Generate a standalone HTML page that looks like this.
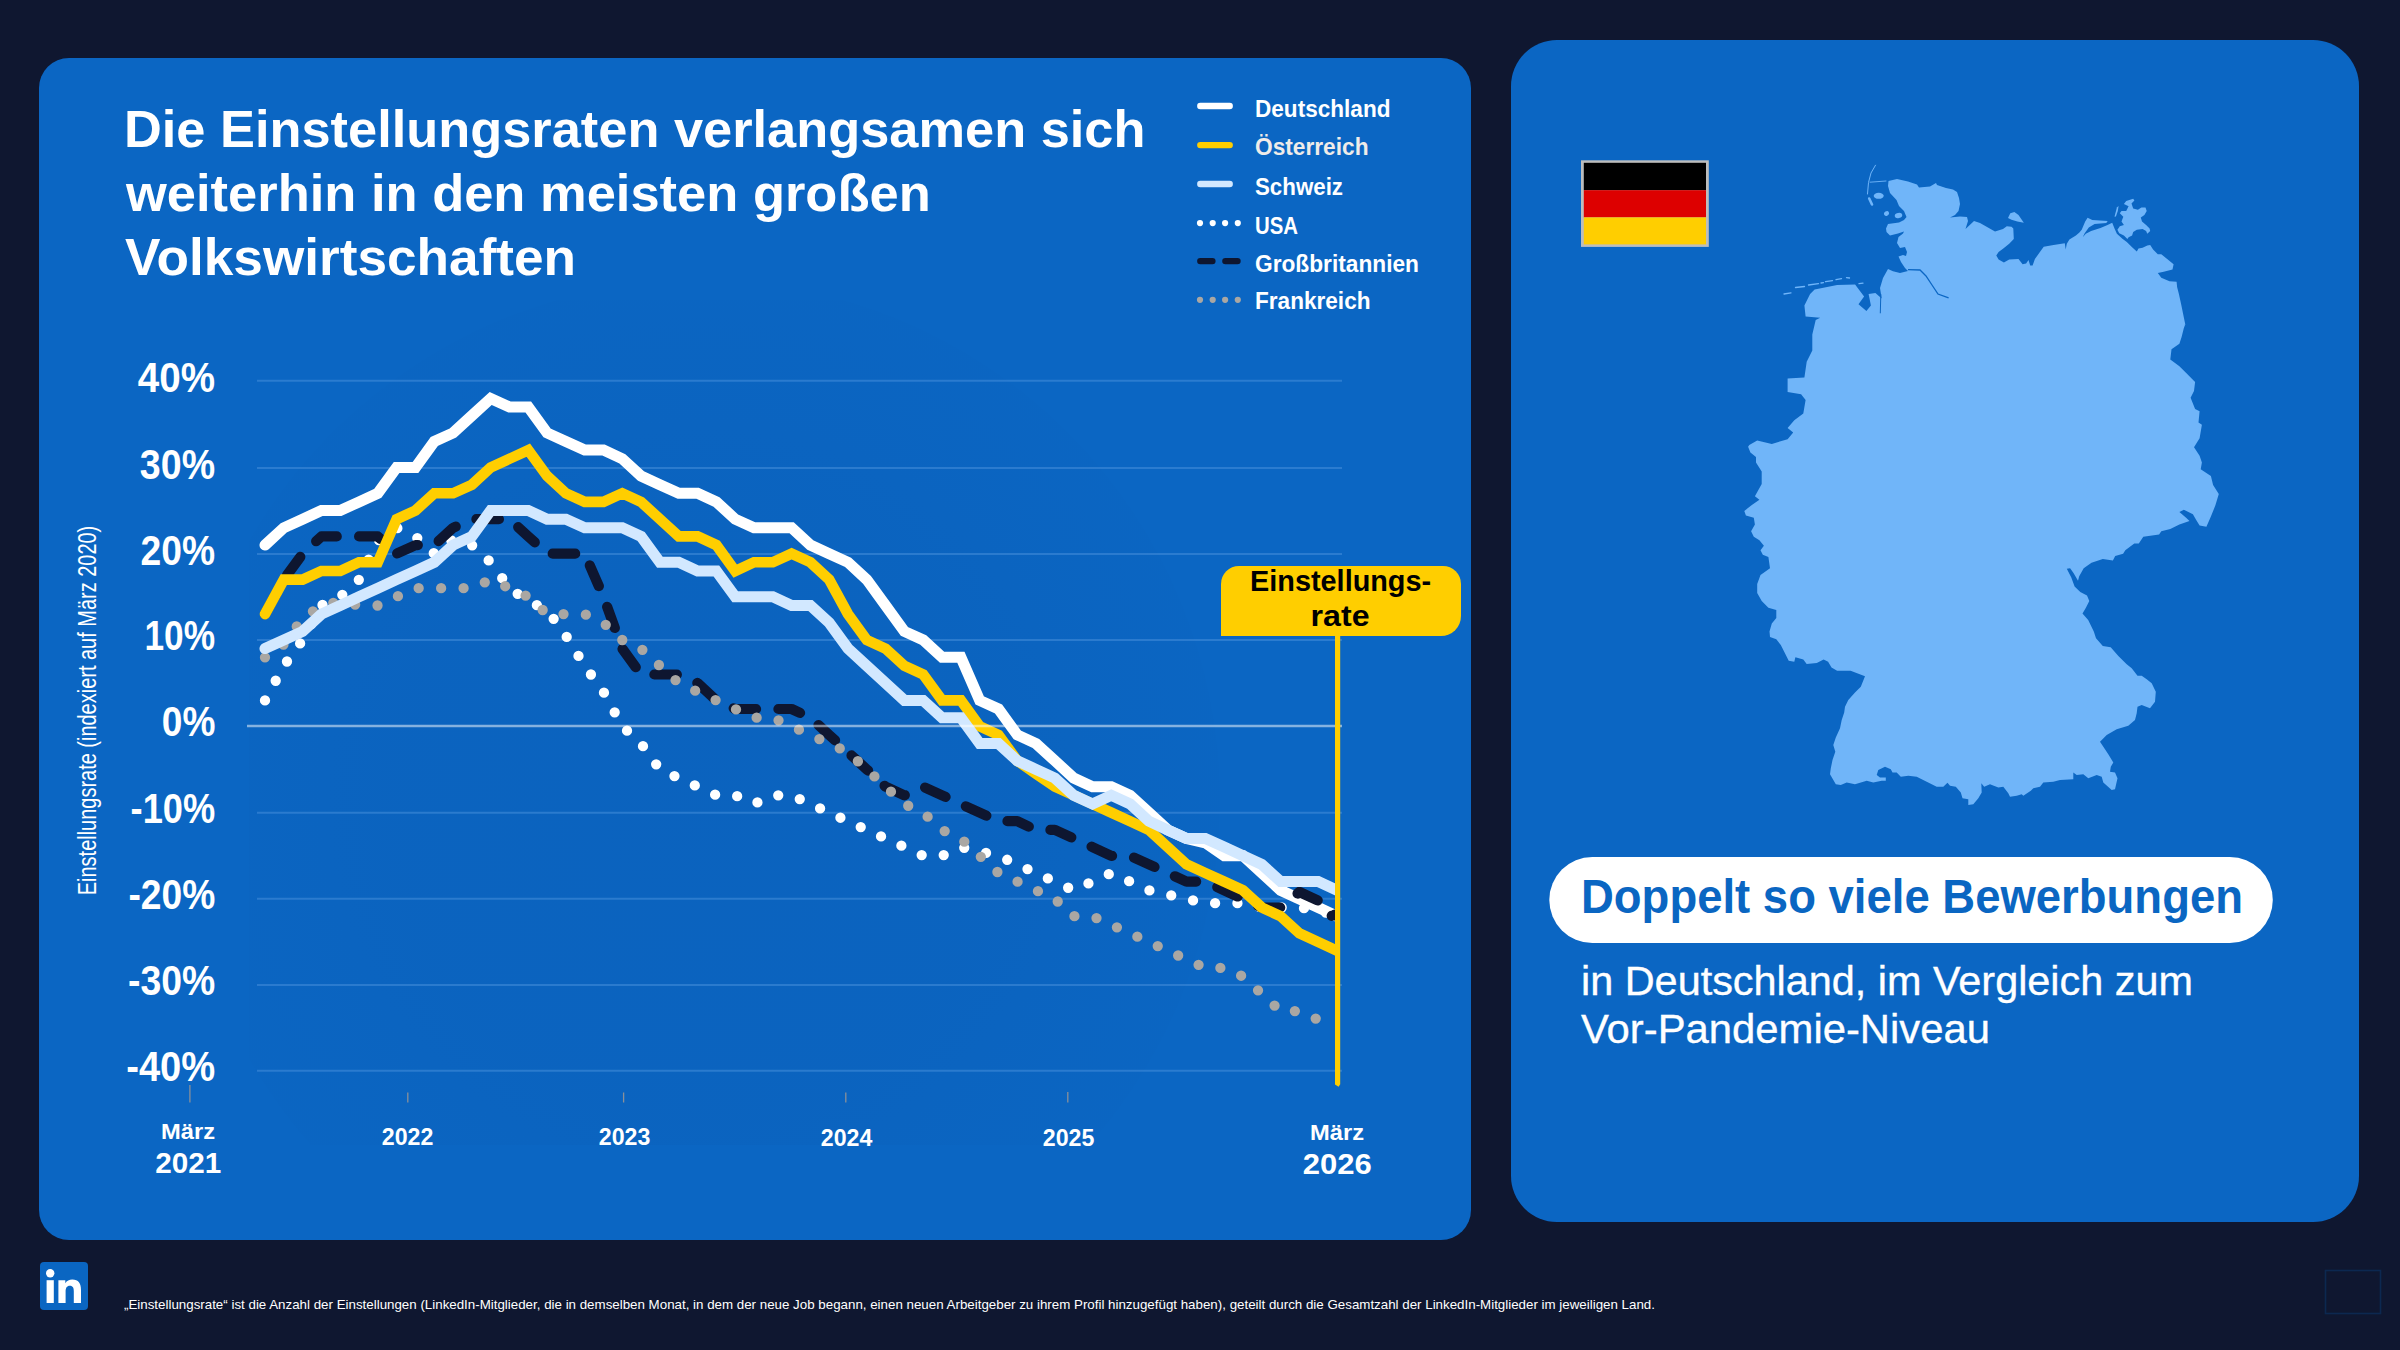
<!DOCTYPE html>
<html><head><meta charset="utf-8"><title>Einstellungsraten</title>
<style>
html,body{margin:0;padding:0;}
body{width:2400px;height:1350px;background:#0f1730;position:relative;overflow:hidden;font-family:"Liberation Sans",sans-serif;}
.t{position:absolute;white-space:nowrap;line-height:1;font-family:"Liberation Sans",sans-serif;}
.panel{position:absolute;background:#0b66c3;}
svg{position:absolute;left:0;top:0;}
</style></head><body>
<div class="panel" style="left:39px;top:58px;width:1432px;height:1182px;border-radius:30px;"></div>
<div class="panel" style="left:1511px;top:40px;width:848px;height:1182px;border-radius:46px;"></div>
<svg width="2400" height="1350" viewBox="0 0 2400 1350">
<defs><clipPath id="cc"><rect x="200" y="300" width="1135.3" height="800"/></clipPath><clipPath id="gc"><rect x="249" y="300" width="1090" height="845"/></clipPath><radialGradient id="rg" gradientUnits="userSpaceOnUse" cx="700" cy="800" r="520"><stop offset="0" stop-color="#0a1e5a" stop-opacity="0.045"/><stop offset="0.6" stop-color="#0a1e5a" stop-opacity="0.036"/><stop offset="1" stop-color="#0a1e5a" stop-opacity="0.01"/></radialGradient></defs>
<circle cx="700" cy="800" r="520" fill="url(#rg)" clip-path="url(#gc)"/>
<line x1="257" x2="1342" y1="380.8" y2="380.8" stroke="#3f8ad8" stroke-width="2" opacity="0.62"/><line x1="257" x2="1342" y1="467.9" y2="467.9" stroke="#3f8ad8" stroke-width="2" opacity="0.62"/><line x1="257" x2="1342" y1="554.1" y2="554.1" stroke="#3f8ad8" stroke-width="2" opacity="0.62"/><line x1="257" x2="1342" y1="640.0" y2="640.0" stroke="#3f8ad8" stroke-width="2" opacity="0.62"/><line x1="257" x2="1342" y1="812.8" y2="812.8" stroke="#3f8ad8" stroke-width="2" opacity="0.62"/><line x1="257" x2="1342" y1="898.8" y2="898.8" stroke="#3f8ad8" stroke-width="2" opacity="0.62"/><line x1="257" x2="1342" y1="985.0" y2="985.0" stroke="#3f8ad8" stroke-width="2" opacity="0.62"/><line x1="257" x2="1342" y1="1070.8" y2="1070.8" stroke="#3f8ad8" stroke-width="2" opacity="0.62"/>
<line x1="189.9" x2="189.9" y1="1085" y2="1102.5" stroke="#8a9099" stroke-width="1.3"/><line x1="407.8" x2="407.8" y1="1092.5" y2="1102.5" stroke="#8a9099" stroke-width="1.3"/><line x1="623.6" x2="623.6" y1="1092.5" y2="1102.5" stroke="#8a9099" stroke-width="1.3"/><line x1="845.8" x2="845.8" y1="1092.5" y2="1102.5" stroke="#8a9099" stroke-width="1.3"/><line x1="1067.8" x2="1067.8" y1="1092" y2="1102.5" stroke="#8a9099" stroke-width="1.3"/>

<g fill="none" stroke-linejoin="miter" clip-path="url(#cc)">
<path d="M265.0 545.1 L283.8 527.8 L302.6 519.2 L321.4 510.5 L340.2 510.5 L359.0 501.9 L377.8 493.3 L396.6 467.4 L415.5 467.4 L434.3 441.5 L453.1 432.9 L471.9 415.6 L490.7 398.4 L509.5 407.0 L528.3 407.0 L547.1 432.9 L565.9 441.5 L584.7 450.1 L603.5 450.1 L622.3 458.8 L641.1 476.0 L659.9 484.7 L678.8 493.3 L697.6 493.3 L716.4 501.9 L735.2 519.2 L754.0 527.8 L772.8 527.8 L791.6 527.8 L810.4 545.1 L829.2 553.7 L848.0 562.3 L866.8 579.6 L885.6 605.5 L904.4 631.4 L923.2 640.0 L942.1 657.3 L960.9 657.3 L979.7 700.4 L998.5 709.0 L1017.3 734.9 L1036.1 743.6 L1054.9 760.8 L1073.7 778.1 L1092.5 786.7 L1111.3 786.7 L1130.1 795.3 L1148.9 812.6 L1167.7 829.9 L1186.5 838.5 L1205.3 842.8 L1224.2 855.8 L1243.0 855.8 L1261.8 873.0 L1280.6 890.3 L1299.4 898.9 L1318.2 907.5 L1337.0 916.2" stroke="#fff" stroke-width="11" stroke-linecap="round"/>
<path d="M265.0 700.4 L283.8 665.9 L302.6 640.0 L321.4 605.5 L340.2 596.8 L359.0 579.6 L377.8 540.8 L396.6 527.8 L415.5 536.4 L434.3 553.7 L453.1 539.0 L471.9 545.1 L490.7 562.3 L509.5 588.2 L528.3 601.2 L547.1 609.8 L565.9 635.7 L584.7 665.9 L603.5 691.8 L622.3 726.3 L641.1 743.6 L659.9 769.4 L678.8 778.1 L697.6 786.7 L716.4 795.3 L735.2 795.3 L754.0 804.0 L772.8 795.3 L791.6 795.3 L810.4 804.0 L829.2 812.6 L848.0 821.2 L866.8 829.9 L885.6 838.5 L904.4 847.1 L923.2 855.8 L942.1 855.8 L960.9 847.1 L979.7 851.4 L998.5 855.8 L1017.3 864.4 L1036.1 873.0 L1054.9 881.6 L1073.7 890.3 L1092.5 881.6 L1111.3 873.0 L1130.1 881.6 L1148.9 890.3 L1167.7 894.6 L1186.5 898.9 L1205.3 903.2 L1224.2 903.2 L1243.0 903.2 L1261.8 907.5 L1280.6 907.5 L1299.4 907.5 L1318.2 910.1 L1337.0 916.2" stroke="#fff" stroke-width="10.3" stroke-linecap="round" stroke-dasharray="0 22.36"/>
<path d="M265.0 614.1 L283.8 579.6 L302.6 553.7 L321.4 536.4 L340.2 536.4 L359.0 536.4 L377.8 536.4 L396.6 553.7 L415.5 545.1 L434.3 545.1 L453.1 527.8 L471.9 519.2 L490.7 519.2 L509.5 519.2 L528.3 536.4 L547.1 553.7 L565.9 553.7 L584.7 553.7 L603.5 596.8 L622.3 648.6 L641.1 674.5 L659.9 674.5 L678.8 674.5 L697.6 683.1 L716.4 700.4 L735.2 709.0 L754.0 709.0 L772.8 709.0 L791.6 709.0 L810.4 717.7 L829.2 734.9 L848.0 752.2 L866.8 769.4 L885.6 786.7 L904.4 795.3 L923.2 786.7 L942.1 795.3 L960.9 804.0 L979.7 812.6 L998.5 821.2 L1017.3 821.2 L1036.1 829.9 L1054.9 829.9 L1073.7 838.5 L1092.5 847.1 L1111.3 855.8 L1130.1 855.8 L1148.9 864.4 L1167.7 873.0 L1186.5 881.6 L1205.3 881.6 L1224.2 890.3 L1243.0 898.9 L1261.8 907.5 L1280.6 907.5 L1299.4 892.0 L1318.2 900.6 L1337.0 916.2" stroke="#0e1630" stroke-width="10.2" stroke-linecap="round" stroke-linejoin="round" stroke-dasharray="22.5 22.35"/>
<circle cx="1331.7" cy="915.8" r="5.1" fill="#0e1630" stroke="none"/>
<path d="M265.0 657.3 L283.8 644.3 L302.6 618.4 L321.4 605.5 L340.2 601.2 L359.0 605.5 L377.8 605.5 L396.6 596.8 L415.5 588.2 L434.3 588.2 L453.1 588.2 L471.9 588.2 L490.7 579.6 L509.5 588.2 L528.3 596.8 L547.1 614.1 L565.9 614.1 L584.7 614.1 L603.5 622.7 L622.3 640.0 L641.1 648.6 L659.9 665.9 L678.8 683.1 L697.6 691.8 L716.4 700.4 L735.2 709.0 L754.0 717.7 L772.8 717.7 L791.6 726.3 L810.4 734.9 L829.2 743.6 L848.0 752.2 L866.8 769.4 L885.6 786.7 L904.4 804.0 L923.2 812.6 L942.1 829.9 L960.9 838.5 L979.7 855.8 L998.5 873.0 L1017.3 881.6 L1036.1 890.3 L1054.9 898.9 L1073.7 916.2 L1092.5 916.2 L1111.3 924.8 L1130.1 933.4 L1148.9 942.0 L1167.7 950.7 L1186.5 959.3 L1205.3 967.9 L1224.2 967.9 L1243.0 976.6 L1261.8 993.8 L1280.6 1011.1 L1299.4 1011.1 L1318.2 1019.7 L1337.0 1022.3" stroke="#aaa7a3" stroke-width="10.3" stroke-linecap="round" stroke-dasharray="0 22.46"/>
<path d="M265.0 614.1 L283.8 579.6 L302.6 579.6 L321.4 571.0 L340.2 571.0 L359.0 562.3 L377.8 562.3 L396.6 519.2 L415.5 510.5 L434.3 493.3 L453.1 493.3 L471.9 484.7 L490.7 467.4 L509.5 458.8 L528.3 450.1 L547.1 476.0 L565.9 493.3 L584.7 501.9 L603.5 501.9 L622.3 493.3 L641.1 501.9 L659.9 519.2 L678.8 536.4 L697.6 536.4 L716.4 545.1 L735.2 571.0 L754.0 562.3 L772.8 562.3 L791.6 553.7 L810.4 562.3 L829.2 579.6 L848.0 614.1 L866.8 640.0 L885.6 648.6 L904.4 665.9 L923.2 674.5 L942.1 700.4 L960.9 700.4 L979.7 726.3 L998.5 734.9 L1017.3 760.8 L1036.1 773.8 L1054.9 786.7 L1073.7 795.3 L1092.5 804.0 L1111.3 812.6 L1130.1 821.2 L1148.9 829.9 L1167.7 847.1 L1186.5 864.4 L1205.3 873.0 L1224.2 881.6 L1243.0 890.3 L1261.8 907.5 L1280.6 916.2 L1299.4 933.4 L1318.2 942.0 L1337.0 950.7" stroke="#ffce00" stroke-width="10.6" stroke-linecap="round"/>
<path d="M265.0 648.6 L283.8 640.0 L302.6 631.4 L321.4 614.1 L340.2 605.5 L359.0 596.8 L377.8 588.2 L396.6 579.6 L415.5 571.0 L434.3 562.3 L453.1 545.1 L471.9 536.4 L490.7 510.5 L509.5 510.5 L528.3 510.5 L547.1 519.2 L565.9 519.2 L584.7 527.8 L603.5 527.8 L622.3 527.8 L641.1 536.4 L659.9 562.3 L678.8 562.3 L697.6 571.0 L716.4 571.0 L735.2 596.8 L754.0 596.8 L772.8 596.8 L791.6 605.5 L810.4 605.5 L829.2 622.7 L848.0 648.6 L866.8 665.9 L885.6 683.1 L904.4 700.4 L923.2 700.4 L942.1 717.7 L960.9 717.7 L979.7 743.6 L998.5 743.6 L1017.3 760.8 L1036.1 769.4 L1054.9 778.1 L1073.7 795.3 L1092.5 804.0 L1111.3 795.3 L1130.1 804.0 L1148.9 821.2 L1167.7 829.9 L1186.5 838.5 L1205.3 838.5 L1224.2 847.1 L1243.0 855.8 L1261.8 864.4 L1280.6 881.6 L1299.4 881.6 L1318.2 881.6 L1337.0 890.3" stroke="#d2e8ff" stroke-width="11" stroke-linecap="round"/>
</g>
<line x1="247" x2="1342" y1="725.9" y2="725.9" stroke="#ffffff" stroke-opacity="0.5" stroke-width="2.5"/>
<path d="M1335 636 L1340.2 636 L1340.2 1084.3 L1338.6 1086.8 L1335 1084.4 Z" fill="#ffce00"/>
<path d="M1221 636 L1221 584 A18 18 0 0 1 1239 566 L1443 566 A18 18 0 0 1 1461 584 L1461 616 A20 20 0 0 1 1441 636 Z" fill="#ffce00"/>
<line x1="1200.3" x2="1229.7" y1="106" y2="106" stroke="#fff" stroke-width="6.4" stroke-linecap="round"/><line x1="1200.3" x2="1229.7" y1="145.1" y2="145.1" stroke="#ffce00" stroke-width="6.4" stroke-linecap="round"/><line x1="1200.3" x2="1229.7" y1="184" y2="184" stroke="#d2e8ff" stroke-width="6.4" stroke-linecap="round"/><circle cx="1200" cy="223.1" r="3.1" fill="#fff"/><circle cx="1200" cy="299.8" r="3.1" fill="#aaa7a3"/><circle cx="1212.7" cy="223.1" r="3.1" fill="#fff"/><circle cx="1212.7" cy="299.8" r="3.1" fill="#aaa7a3"/><circle cx="1225.1" cy="223.1" r="3.1" fill="#fff"/><circle cx="1225.1" cy="299.8" r="3.1" fill="#aaa7a3"/><circle cx="1237.8" cy="223.1" r="3.1" fill="#fff"/><circle cx="1237.8" cy="299.8" r="3.1" fill="#aaa7a3"/><line x1="1200.3" x2="1212.4" y1="261.1" y2="261.1" stroke="#0e1630" stroke-width="6.4" stroke-linecap="round"/><line x1="1225.4" x2="1237.5" y1="261.1" y2="261.1" stroke="#0e1630" stroke-width="6.4" stroke-linecap="round"/>
<!-- flag -->
<rect x="1581" y="160.3" width="127.8" height="86.6" fill="#bdbdbd"/>
<rect x="1583.8" y="162.8" width="122.2" height="27.4" fill="#000"/>
<rect x="1583.8" y="190.2" width="122.2" height="27.2" fill="#dd0000"/>
<rect x="1583.8" y="217.4" width="122.2" height="27" fill="#ffce00"/>
<!-- map -->
<path d="M1749.3 445.0 L1757.2 440.5 L1771.8 443.9 L1787.6 439.3 L1793.2 432.6 L1787.6 428.1 L1794.3 420.2 L1803.3 413.5 L1805.6 399.9 L1801.1 394.3 L1787.6 392.1 L1787.6 378.6 L1804.4 377.4 L1806.7 361.7 L1812.3 350.4 L1812.3 334.6 L1815.7 320.0 L1820.2 317.8 L1805.6 316.6 L1804.4 305.4 L1810.1 294.1 L1814.6 289.6 L1837.1 285.1 L1855.1 284.4 L1864.1 296.4 L1858.5 304.2 L1866.4 311.0 L1870.9 305.4 L1868.6 294.1 L1875.4 293.0 L1881.7 298.6 L1880.0 288.0 L1883.0 278.0 L1888.0 269.0 L1893.0 271.2 L1900.0 273.0 L1908.0 271.0 L1905.0 268.0 L1901.0 262.0 L1898.5 256.5 L1903.0 255.0 L1906.0 256.0 L1907.0 252.0 L1905.0 247.0 L1900.0 248.0 L1897.0 243.0 L1898.5 237.0 L1903.0 233.5 L1904.0 231.5 L1898.0 233.5 L1890.0 235.5 L1886.5 232.0 L1886.0 228.5 L1888.0 224.0 L1899.0 222.5 L1904.0 220.0 L1906.5 217.0 L1904.0 211.0 L1899.0 206.0 L1896.5 200.0 L1890.0 193.0 L1888.0 186.0 L1888.5 181.0 L1897.0 179.0 L1908.0 181.5 L1917.0 184.5 L1919.0 187.5 L1930.0 186.5 L1936.0 183.0 L1937.0 185.0 L1946.0 188.0 L1953.0 189.5 L1957.0 192.0 L1959.0 198.0 L1960.0 204.0 L1958.5 211.0 L1955.0 215.0 L1950.0 217.5 L1960.0 216.5 L1967.0 217.0 L1968.0 221.0 L1965.5 229.0 L1974.0 221.0 L1980.0 223.0 L1995.0 231.5 L2003.0 229.0 L2006.8 226.2 L2011.5 226.8 L2013.3 228.5 L2013.8 239.1 L2009.2 243.7 L2003.3 248.4 L1998.6 251.9 L1996.3 255.5 L1998.6 259.5 L2003.9 262.5 L2009.2 259.5 L2018.5 259.0 L2022.6 264.2 L2026.1 263.6 L2028.5 260.1 L2030.2 265.4 L2032.6 265.4 L2034.9 259.0 L2040.8 250.8 L2043.7 246.7 L2053.6 244.9 L2064.8 243.2 L2065.7 249.6 L2066.8 243.7 L2069.4 239.6 L2075.9 235.6 L2079.4 232.6 L2081.7 229.7 L2085.2 221.5 L2087.6 217.8 L2092.3 220.1 L2107.7 221.0 L2106.3 222.9 L2094.6 224.1 L2088.8 227.6 L2084.7 233.2 L2082.7 237.3 L2085.8 233.8 L2091.1 230.9 L2100.5 227.9 L2107.5 225.0 L2112.2 222.7 L2114.5 228.5 L2116.9 233.8 L2122.7 239.1 L2126.8 242.0 L2132.1 247.3 L2136.8 251.4 L2138.5 248.4 L2142.6 247.8 L2147.3 245.5 L2150.2 244.9 L2153.1 249.6 L2157.8 254.3 L2161.3 254.3 L2168.4 260.1 L2173.6 264.2 L2172.5 269.5 L2163.7 271.8 L2157.8 273.0 L2161.3 277.7 L2169.5 281.2 L2176.6 281.8 L2177.1 287.1 L2178.9 294.1 L2181.2 304.6 L2183.6 316.3 L2185.3 324.5 L2184.2 328.0 L2185.0 323.4 L2181.6 336.9 L2179.4 343.7 L2171.5 349.3 L2170.3 359.4 L2179.4 366.2 L2187.2 374.0 L2195.1 381.9 L2194.0 390.9 L2190.6 397.7 L2195.1 409.0 L2199.6 411.2 L2198.5 422.5 L2201.9 424.7 L2199.6 438.2 L2194.0 447.2 L2192.9 445.6 L2199.6 455.8 L2201.9 462.5 L2200.7 469.3 L2210.9 476.0 L2213.1 485.0 L2218.8 494.0 L2215.4 505.3 L2210.9 516.6 L2206.4 526.7 L2199.6 525.6 L2196.2 519.9 L2192.9 514.3 L2183.9 509.8 L2179.4 512.1 L2186.1 517.7 L2189.5 521.1 L2179.4 524.4 L2170.3 528.9 L2161.3 531.2 L2159.1 534.6 L2143.3 536.8 L2138.8 543.6 L2134.3 543.6 L2125.3 550.3 L2123.1 553.7 L2115.2 556.0 L2112.9 560.5 L2102.8 558.9 L2091.5 562.7 L2083.7 568.3 L2079.2 576.2 L2078.0 580.7 L2073.5 572.9 L2070.1 568.3 L2066.8 568.8 L2071.3 577.4 L2074.6 586.4 L2080.3 592.0 L2087.0 595.4 L2089.3 601.0 L2085.9 607.8 L2082.5 613.4 L2088.2 620.1 L2093.8 631.4 L2096.0 638.2 L2102.8 646.0 L2110.7 647.2 L2118.6 656.2 L2126.7 664.2 L2131.7 668.3 L2137.5 675.8 L2141.7 675.8 L2146.7 679.2 L2151.7 683.3 L2155.8 691.7 L2155.0 701.7 L2150.0 708.3 L2141.7 705.0 L2137.5 706.7 L2136.7 713.3 L2135.0 720.0 L2128.3 725.8 L2116.7 729.2 L2106.7 735.0 L2100.0 741.7 L2108.3 754.2 L2113.3 762.5 L2110.8 766.7 L2110.0 771.7 L2115.0 772.5 L2117.5 778.3 L2115.0 789.2 L2111.7 790.0 L2103.3 782.5 L2101.7 776.7 L2096.7 775.0 L2088.3 778.3 L2083.3 774.2 L2076.7 775.0 L2073.3 772.5 L2073.3 779.2 L2060.0 780.0 L2053.3 781.7 L2043.3 782.5 L2040.0 786.7 L2033.3 788.3 L2030.8 790.8 L2023.3 795.8 L2021.7 794.2 L2016.7 795.8 L2010.0 796.7 L2008.3 793.3 L2003.3 786.7 L1998.3 787.5 L1990.0 784.2 L1984.2 786.7 L1981.3 783.3 L1981.7 792.5 L1978.3 798.3 L1973.3 804.2 L1968.3 805.0 L1968.3 799.2 L1962.5 798.3 L1960.8 792.5 L1955.8 786.7 L1950.0 785.8 L1947.5 782.8 L1943.3 786.7 L1936.7 786.7 L1926.7 781.7 L1916.7 776.7 L1908.3 775.8 L1900.8 776.7 L1896.7 772.5 L1892.5 772.5 L1890.8 769.2 L1885.0 766.7 L1878.3 770.0 L1876.7 775.0 L1880.0 777.5 L1885.8 777.5 L1885.8 780.8 L1881.7 780.8 L1873.3 782.5 L1866.7 780.8 L1855.0 784.2 L1846.7 782.5 L1840.8 785.0 L1835.8 784.2 L1830.0 774.2 L1830.8 768.3 L1832.5 760.0 L1835.3 751.7 L1833.3 745.0 L1835.8 737.5 L1840.0 728.3 L1841.7 720.0 L1844.2 712.5 L1845.0 706.7 L1848.3 700.0 L1855.0 692.5 L1860.8 686.7 L1865.0 676.2 L1850.6 670.8 L1837.1 670.8 L1831.5 667.4 L1828.1 661.8 L1823.6 659.5 L1816.8 662.9 L1806.7 664.0 L1803.3 659.5 L1795.4 657.3 L1794.3 661.8 L1788.7 660.7 L1784.2 651.7 L1780.8 644.9 L1776.3 639.3 L1770.0 637.0 L1769.5 631.4 L1771.8 623.5 L1776.3 617.9 L1776.3 610.0 L1768.4 607.8 L1761.7 601.0 L1757.2 593.1 L1757.2 584.1 L1760.5 575.1 L1770.0 568.3 L1768.4 557.1 L1762.8 554.8 L1760.5 550.3 L1763.9 545.8 L1759.4 540.2 L1753.8 536.8 L1751.1 531.2 L1754.9 524.4 L1753.8 517.7 L1745.9 515.4 L1744.3 510.9 L1751.5 505.3 L1759.4 499.7 L1754.9 496.3 L1761.7 483.9 L1761.7 471.5 L1756.0 462.5 L1756.0 456.9 L1750.4 452.4 L1748.1 446.8Z" fill="#70b5f9"/><path d="M2008.0 218.0 L2010.3 213.3 L2014.4 212.1 L2018.5 215.1 L2023.8 222.7 L2017.4 221.5 L2011.5 219.7Z" fill="#70b5f9"/><path d="M2119.8 213.3 L2121.5 211.0 L2126.2 211.0 L2128.6 206.3 L2123.9 203.9 L2126.2 201.0 L2133.2 198.7 L2134.4 200.4 L2131.5 203.4 L2133.2 208.6 L2137.9 209.8 L2141.4 207.5 L2145.5 207.5 L2146.7 211.0 L2144.4 215.1 L2140.8 217.4 L2142.0 221.5 L2146.1 225.0 L2149.6 228.5 L2150.2 230.9 L2147.3 233.8 L2146.1 230.9 L2142.6 229.1 L2136.8 229.7 L2133.2 232.0 L2132.1 235.6 L2128.6 237.3 L2127.4 239.1 L2123.9 235.6 L2119.2 233.2 L2117.4 229.7 L2119.8 226.2 L2123.9 225.0 L2121.5 221.5 L2123.3 216.8Z" fill="#70b5f9"/><path d="M2114.5 216.8 L2116.9 207.5 L2118.6 206.1 L2117.8 211.0 L2115.9 216.6Z" fill="#70b5f9"/><ellipse cx="1878.7" cy="195.8" rx="5.0" ry="3.0" fill="#70b5f9" transform="rotate(0 1878.7 195.8)"/><ellipse cx="1886.5" cy="213.5" rx="2.7" ry="2.2" fill="#70b5f9" transform="rotate(-30 1886.5 213.5)"/><ellipse cx="1898.5" cy="215.5" rx="3.8" ry="2.6" fill="#70b5f9" transform="rotate(-15 1898.5 215.5)"/><path d="M1875.5 165.2 L1871.0 173.0 L1868.5 182.5 L1867.5 194.0" stroke="#70b5f9" stroke-width="1.0" fill="none" stroke-linecap="round" /><path d="M1870.0 182.2 L1886.0 181.0" stroke="#70b5f9" stroke-width="0.9" fill="none" stroke-linecap="round" /><path d="M1869.2 198.5 L1872.0 204.5" stroke="#70b5f9" stroke-width="2.6" fill="none" stroke-linecap="round" /><path d="M1784.0 294.0 L1791.0 292.8" stroke="#70b5f9" stroke-width="1.3" fill="none" stroke-linecap="round" /><path d="M1795.5 287.5 L1804.5 286.5" stroke="#70b5f9" stroke-width="1.3" fill="none" stroke-linecap="round" /><path d="M1808.5 285.0 L1818.5 283.7" stroke="#70b5f9" stroke-width="1.3" fill="none" stroke-linecap="round" /><path d="M1821.0 283.0 L1823.5 282.6" stroke="#70b5f9" stroke-width="1.3" fill="none" stroke-linecap="round" /><path d="M1825.5 281.7 L1832.5 280.6" stroke="#70b5f9" stroke-width="1.3" fill="none" stroke-linecap="round" /><path d="M1836.0 279.6 L1841.5 278.7" stroke="#70b5f9" stroke-width="1.3" fill="none" stroke-linecap="round" /><path d="M1846.5 277.6 L1849.5 278.0" stroke="#70b5f9" stroke-width="1.3" fill="none" stroke-linecap="round" /><path d="M1859.0 283.6 L1863.0 283.1" stroke="#70b5f9" stroke-width="1.3" fill="none" stroke-linecap="round" /><path d="M1908.0 269.7 L1920.0 270.0 L1926.0 276.0 L1932.0 285.0 L1938.0 294.0 L1948.6 297.9" stroke="#0b66c3" stroke-width="1.3" fill="none"/><path d="M1880.8 294.1 L1880.3 313.3" stroke="#0b66c3" stroke-width="1" fill="none"/>
<!-- pill -->
<rect x="1549.3" y="857" width="723.5" height="86" rx="43" fill="#fff"/>
<!-- small box -->
<rect x="2325.5" y="1270.5" width="55" height="43" fill="none" stroke="#0c2850" stroke-width="1.6"/>
<!-- linkedin -->
<rect x="40" y="1262" width="48" height="48" rx="4" fill="#0a66c2"/>
<rect x="46.6" y="1280.2" width="7.2" height="22.8" fill="#fff"/>
<circle cx="50.2" cy="1273.2" r="4.2" fill="#fff"/>
<path d="M58.4 1280.2 h6.9 v3.1 c1.4-2.4 4-3.7 7-3.7 c6.2 0 8.7 3.9 8.7 10.4 v13 h-7.2 v-11.6 c0-3.4-0.9-5.6-3.9-5.6 c-3.2 0-4.3 2.4-4.3 5.7 v11.5 h-7.2 z" fill="#fff"/>
</svg>
<div class="t" style="left:-144.5px;top:698.0px;font-size:25px;font-weight:400;color:#fff;transform-origin:50% 50%;transform:rotate(-90deg) scaleX(0.7985)">Einstellungsrate (indexiert auf März 2020)</div>
<div class="t" style="left:123.8px;top:103.0px;font-size:52px;font-weight:700;color:#fff;transform-origin:0 50%;transform:scaleX(1.0070)">Die Einstellungsraten verlangsamen sich</div>
<div class="t" style="left:126.0px;top:167.2px;font-size:52px;font-weight:700;color:#fff;transform-origin:0 50%;transform:scaleX(1.0091)">weiterhin in den meisten großen</div>
<div class="t" style="left:125.2px;top:231.0px;font-size:52px;font-weight:700;color:#fff;transform-origin:0 50%;transform:scaleX(1.0225)">Volkswirtschaften</div>
<div class="t" style="left:1255.0px;top:97.5px;font-size:23.6px;font-weight:700;color:#fff;transform-origin:0 50%;transform:scaleX(0.9570)">Deutschland</div>
<div class="t" style="left:1255.0px;top:136.4px;font-size:23.6px;font-weight:700;color:#efece9;transform-origin:0 50%;transform:scaleX(0.9616)">Österreich</div>
<div class="t" style="left:1255.0px;top:175.7px;font-size:23.6px;font-weight:700;color:#fff;transform-origin:0 50%;transform:scaleX(0.9451)">Schweiz</div>
<div class="t" style="left:1255.0px;top:214.6px;font-size:23.6px;font-weight:700;color:#fff;transform-origin:0 50%;transform:scaleX(0.8630)">USA</div>
<div class="t" style="left:1255.0px;top:253.0px;font-size:23.6px;font-weight:700;color:#fff;transform-origin:0 50%;transform:scaleX(0.9624)">Großbritannien</div>
<div class="t" style="left:1255.0px;top:290.1px;font-size:23.6px;font-weight:700;color:#fff;transform-origin:0 50%;transform:scaleX(0.9573)">Frankreich</div>
<div class="t" style="left:130.4px;top:357.0px;font-size:42.5px;font-weight:700;color:#fff;transform-origin:100% 50%;transform:scaleX(0.9080)">40%</div>
<div class="t" style="left:130.4px;top:444.1px;font-size:42.5px;font-weight:700;color:#fff;transform-origin:100% 50%;transform:scaleX(0.8840)">30%</div>
<div class="t" style="left:130.4px;top:529.5px;font-size:42.5px;font-weight:700;color:#fff;transform-origin:100% 50%;transform:scaleX(0.8760)">20%</div>
<div class="t" style="left:130.4px;top:615.4px;font-size:42.5px;font-weight:700;color:#fff;transform-origin:100% 50%;transform:scaleX(0.8300)">10%</div>
<div class="t" style="left:154.1px;top:701.3px;font-size:42.5px;font-weight:700;color:#fff;transform-origin:100% 50%;transform:scaleX(0.8720)">0%</div>
<div class="t" style="left:116.3px;top:788.2px;font-size:42.5px;font-weight:700;color:#fff;transform-origin:100% 50%;transform:scaleX(0.8530)">-10%</div>
<div class="t" style="left:116.3px;top:874.2px;font-size:42.5px;font-weight:700;color:#fff;transform-origin:100% 50%;transform:scaleX(0.8750)">-20%</div>
<div class="t" style="left:116.3px;top:960.4px;font-size:42.5px;font-weight:700;color:#fff;transform-origin:100% 50%;transform:scaleX(0.8790)">-30%</div>
<div class="t" style="left:116.3px;top:1046.2px;font-size:42.5px;font-weight:700;color:#fff;transform-origin:100% 50%;transform:scaleX(0.8970)">-40%</div>
<div class="t" style="left:162.9px;top:1121.3px;font-size:22px;font-weight:700;color:#fff;transform-origin:50% 50%;transform:scaleX(1.0773)">März</div>
<div class="t" style="left:155.7px;top:1149.3px;font-size:29px;font-weight:700;color:#fff;transform-origin:50% 50%;transform:scaleX(1.0230)">2021</div>
<div class="t" style="left:382.4px;top:1126.3px;font-size:23px;font-weight:700;color:#fff;transform-origin:50% 50%;transform:scaleX(1.0064)">2022</div>
<div class="t" style="left:598.7px;top:1126.3px;font-size:23px;font-weight:700;color:#fff;transform-origin:50% 50%;transform:scaleX(1.0064)">2023</div>
<div class="t" style="left:821.2px;top:1126.8px;font-size:23px;font-weight:700;color:#fff;transform-origin:50% 50%;transform:scaleX(1.0064)">2024</div>
<div class="t" style="left:1043.3px;top:1126.8px;font-size:23px;font-weight:700;color:#fff;transform-origin:50% 50%;transform:scaleX(1.0064)">2025</div>
<div class="t" style="left:1312.2px;top:1121.6px;font-size:22px;font-weight:700;color:#fff;transform-origin:50% 50%;transform:scaleX(1.0773)">März</div>
<div class="t" style="left:1304.9px;top:1149.7px;font-size:29px;font-weight:700;color:#fff;transform-origin:50% 50%;transform:scaleX(1.0695)">2026</div>
<div class="t" style="left:1247.9px;top:565.7px;font-size:29.5px;font-weight:700;color:#000;transform-origin:50% 50%;transform:scaleX(0.9772)">Einstellungs-</div>
<div class="t" style="left:1313.4px;top:601.4px;font-size:29.5px;font-weight:700;color:#000;transform-origin:50% 50%;transform:scaleX(1.0901)">rate</div>
<div class="t" style="left:1580.6px;top:872.5px;font-size:47.6px;font-weight:700;color:#0a66c2;transform-origin:0 50%;transform:scaleX(0.9554)">Doppelt so viele Bewerbungen</div>
<div class="t" style="left:1580.5px;top:962.3px;font-size:40.3px;font-weight:400;color:#fff;transform-origin:0 50%;transform:scaleX(1.0272);-webkit-text-stroke:0.35px #fff">in Deutschland, im Vergleich zum</div>
<div class="t" style="left:1580.5px;top:1009.7px;font-size:40.3px;font-weight:400;color:#fff;transform-origin:0 50%;transform:scaleX(1.0375);-webkit-text-stroke:0.35px #fff">Vor-Pandemie-Niveau</div>
<div class="t" style="left:123.6px;top:1298.1px;font-size:13.4px;font-weight:400;color:#fff;transform-origin:0 50%;transform:scaleX(0.9955)">„Einstellungsrate“ ist die Anzahl der Einstellungen (LinkedIn-Mitglieder, die in demselben Monat, in dem der neue Job begann, einen neuen Arbeitgeber zu ihrem Profil hinzugefügt haben), geteilt durch die Gesamtzahl der LinkedIn-Mitglieder im jeweiligen Land.</div>
</body></html>
